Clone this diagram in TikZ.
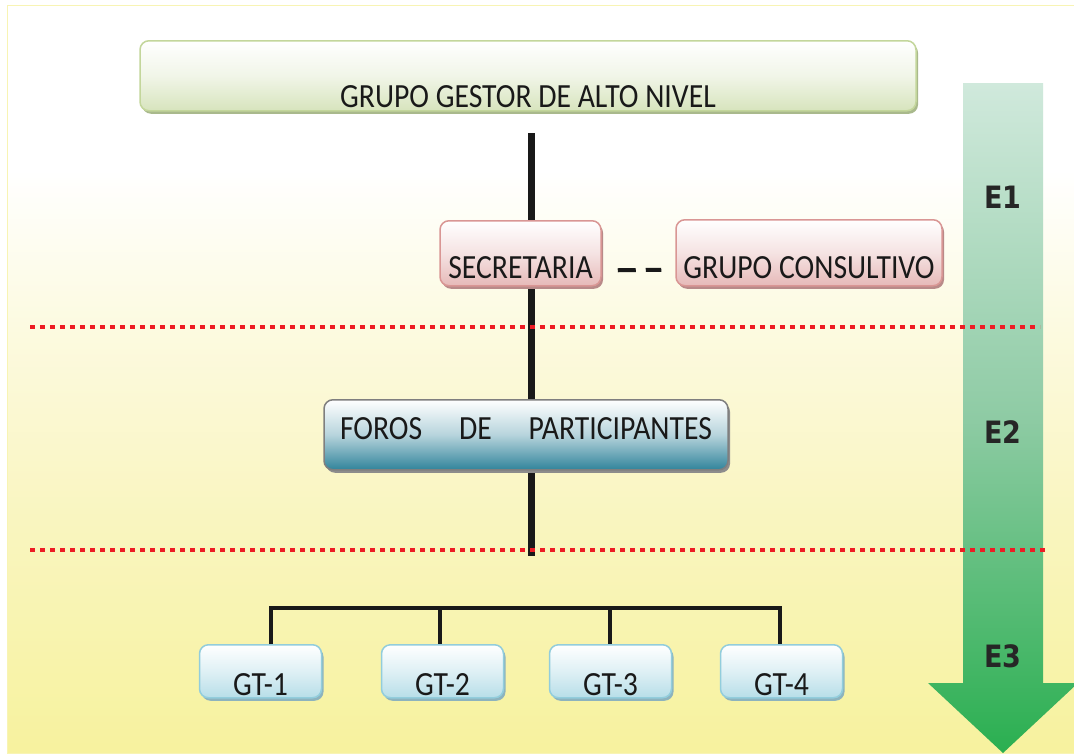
\documentclass[tikz,border=0pt]{standalone}
\usepackage{fontspec}
\setmainfont{Carlito}
\newfontfamily\stagefont{DejaVu Sans}
\usetikzlibrary{shadows,positioning}
\definecolor{bgYel}{HTML}{F7F29E}
\definecolor{bgMid}{HTML}{F9F5BE}
\definecolor{bgLight}{HTML}{FCFADF}
\definecolor{bgEdge}{HTML}{F8F4B4}
\definecolor{grnEdge}{HTML}{C3D69B}
\definecolor{grnFill}{HTML}{D7E4BD}
\definecolor{grnShadow}{HTML}{A9B98C}
\definecolor{pnkEdge}{HTML}{D99694}
\definecolor{pnkFill}{HTML}{E6B9B8}
\definecolor{pnkShadow}{HTML}{B98A89}
\definecolor{tealEdge}{HTML}{7F7F7F}
\definecolor{tealFill}{HTML}{31849B}
\definecolor{tealShadow}{HTML}{8C8C8C}
\definecolor{bluEdge}{HTML}{92CDDC}
\definecolor{bluFill}{HTML}{B7DEE8}
\definecolor{bluShadow}{HTML}{8DB3BE}
\definecolor{arrTop}{HTML}{D0E9DC}
\definecolor{arrMid}{HTML}{8ECBA4}
\definecolor{arrBot}{HTML}{2AAF50}
\definecolor{redDot}{HTML}{ED1C24}
\pgfdeclareverticalshading{bgfade}{100bp}{color(0bp)=(bgYel); color(25bp)=(bgYel);
  color(40bp)=(bgMid); color(53bp)=(bgLight); color(64bp)=(white); color(100bp)=(white)}
\newcommand\tall[1]{\scalebox{1}[1.14]{#1}}

\begin{document}
\begin{tikzpicture}[
 x=1pt,y=-1pt,line join=miter,
 box/.style={rounded corners=9pt,line width=1.5pt,inner sep=0pt,anchor=north,
   font=\fontsize{29.7}{31}\selectfont,text=black!90},
 gestorbox/.style={box,draw=grnEdge,top color=white,bottom color=grnFill,middle color=grnFill!35,
   drop shadow={shadow xshift=2pt,shadow yshift=-3pt,fill=grnShadow,opacity=1}},
 secbox/.style={box,draw=pnkEdge,top color=white,bottom color=pnkFill,middle color=pnkFill!40,
   drop shadow={shadow xshift=2pt,shadow yshift=-3pt,fill=pnkShadow,opacity=1}},
 forobox/.style={box,draw=tealEdge,top color=white,bottom color=tealFill,middle color=tealFill!35,
   drop shadow={shadow xshift=2pt,shadow yshift=-3pt,fill=tealShadow,opacity=1}},
 gtbox/.style={box,draw=bluEdge,top color=white,bottom color=bluFill,middle color=bluFill!45,
   minimum width=122pt,text height=51pt,text depth=2pt,
   drop shadow={shadow xshift=2pt,shadow yshift=-3pt,fill=bluShadow,opacity=1}},
 stage/.style={font=\stagefont\bfseries\fontsize{27}{29}\selectfont,text=black!85},
 trunk/.style={draw=black!90,line width=7pt},
 bus/.style={draw=black!90,line width=4pt},
 link/.style={draw=black!90,line width=4pt,dash pattern=on 18pt off 10pt},
 stageline/.style={draw=redDot,line width=3.5pt,dash pattern=on 5pt off 5pt}]
\useasboundingbox (0,0) rectangle (1074,753);

% background and stage arrow
\shade[shading=bgfade,draw=bgEdge,line width=1pt] (7,5) rectangle (1074,753);
\shade[top color=arrTop,bottom color=arrBot,middle color=arrMid]
  (963,83) -- (1043,83) -- (1043,683) -- (1078,683) -- (1003,753) -- (928,683) -- (963,683) -- cycle;
\node[stage] (e1) at (1003,197) {\tall{E1}};
\node[stage] (e2) at (1003,432) {\tall{E2}};
\node[stage] (e3) at (1003,656) {\tall{E3}};

% trunk
\coordinate (trunkTop) at (531,133);
\coordinate (trunkEnd) at (531,556);
\draw[trunk] (trunkTop) -- (trunkEnd);

\draw[stageline] (30,327) -- (1040,327);
\draw[stageline] (30,550) -- (1047,550);

% boxes
\node[gestorbox,minimum width=776pt,text height=67pt,text depth=3pt] (gestor) at (528,40)
  {\tall{GRUPO GESTOR DE ALTO NIVEL}};
\node[secbox,minimum width=161pt,text height=57.5pt,text depth=7.5pt] (sec) at (520.5,220)
  {\tall{SECRETARIA}};
\node[secbox,minimum width=266pt,text height=58.5pt,text depth=7.5pt] (cons) at (809,219)
  {\tall{GRUPO CONSULTIVO}};
\draw[link] ([xshift=16pt,yshift=-17pt]sec.east) -- ([xshift=-14pt,yshift=-17pt]cons.west);
\node[forobox,minimum width=404pt,text height=40pt,text depth=30pt] (foros) at (526,399)
  {\tall{\makebox[372pt][s]{FOROS\hfill DE\hfill PARTICIPANTES}}};

% working groups
\foreach \i/\xx/\dx in {1/260.5/271,2/442.5/440,3/610.5/610,4/781.5/780} {
  \node[gtbox] (gt\i) at (\xx,644) {\tall{GT-\i}};
  \coordinate (drop\i) at (\dx,608);
}
\draw[bus] (drop1 |- gt1.north) -- (drop1) -- (drop4) -- (drop4 |- gt4.north);
\draw[bus] (drop2) -- (drop2 |- gt2.north);
\draw[bus] (drop3) -- (drop3 |- gt3.north);
\end{tikzpicture}
\end{document}
